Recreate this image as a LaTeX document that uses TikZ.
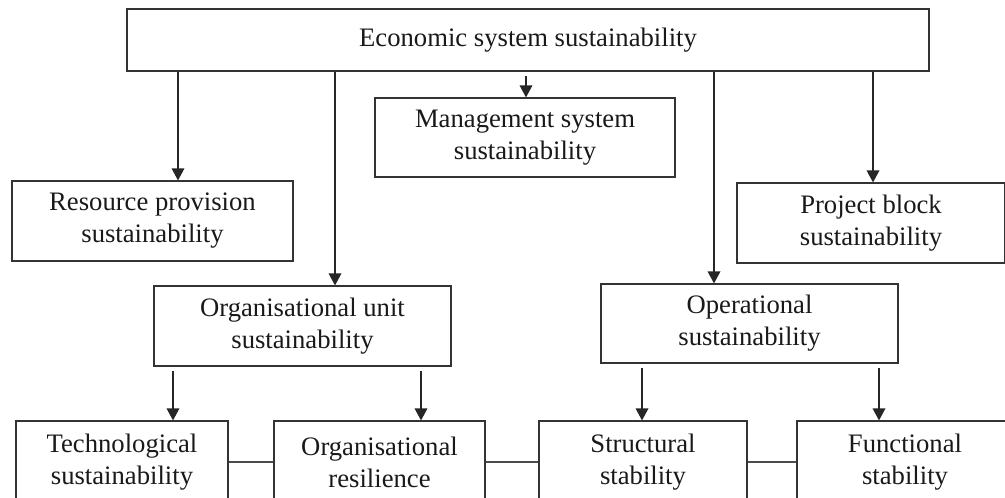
\documentclass[tikz,border=0pt]{standalone}
\usepackage{fontspec}
\setmainfont{Liberation Serif}
\usetikzlibrary{arrows.meta}
\begin{document}
\begin{tikzpicture}[x=0.75pt,y=-0.75pt,
  box/.style={draw=black!80,line width=0.9pt,inner sep=0pt,align=center,
    font=\fontsize{20pt}{24pt}\selectfont,text=black!90},
  wh/.style 2 args={minimum width=#1*0.75pt,minimum height=#2*0.75pt},
  arr/.style={draw=black!85,line width=0.9pt,-{Triangle[width=9.5pt,length=9pt]}},
  link/.style={draw=black!70,line width=0.9pt}]
\useasboundingbox (0,0) rectangle (1005,497);
\clip (0,0) rectangle (1005,497);
% upper level
\node[box,wh={802}{62}] (econ) at (528,40) {Economic system sustainability};
\node[box,wh={300}{79}] (mgmt) at (525,137.5) {Management system\\sustainability};
\node[box,wh={281}{80}] (res) at (152.5,221) {Resource provision\\sustainability};
\node[box,wh={268}{80}] (proj) at (871,223) {Project block\\sustainability};
% middle level
\node[box,wh={297}{80}] (unit) at (302.5,326) {Organisational unit\\sustainability};
\node[box,wh={297}{79}] (oper) at (749.5,323.5) {Operational\\sustainability};
% lower level
\node[box,wh={212}{82}] (tech) at (122,462) {Technological\\sustainability};
\node[box,wh={211}{82}] (resil) at (379.5,462) {Organisational\\resilience};
\node[box,wh={208}{82}] (struct) at (643,462) {Structural\\stability};
\node[box,wh={216}{82}] (func) at (905,462) {Functional\\stability};
% arrows from the top box
\draw[arr] (econ.south -| 178,0) -- (res.north -| 178,0);
\draw[arr] (econ.south -| 335,0) -- (unit.north -| 335,0);
\draw[arr] ([yshift=-3pt]econ.south -| 526,0) -- (mgmt.north -| 526,0);
\draw[arr] (econ.south -| 714,0) -- (oper.north -| 714,0);
\draw[arr] (econ.south -| 873,0) -- (proj.north -| 873,0);
% arrows to the lower level
\draw[arr] ([yshift=-3pt]unit.south -| 173,0) -- (tech.north -| 173,0);
\draw[arr] ([yshift=-3pt]unit.south -| 421,0) -- (resil.north -| 421,0);
\draw[arr] ([yshift=-3pt]oper.south -| 642,0) -- (struct.north -| 642,0);
\draw[arr] ([yshift=-3pt]oper.south -| 879,0) -- (func.north -| 879,0);
% horizontal links
\draw[link] (tech.east) -- (resil.west);
\draw[link] (resil.east) -- (struct.west);
\draw[link] (struct.east) -- (func.west);
\end{tikzpicture}
\end{document}
